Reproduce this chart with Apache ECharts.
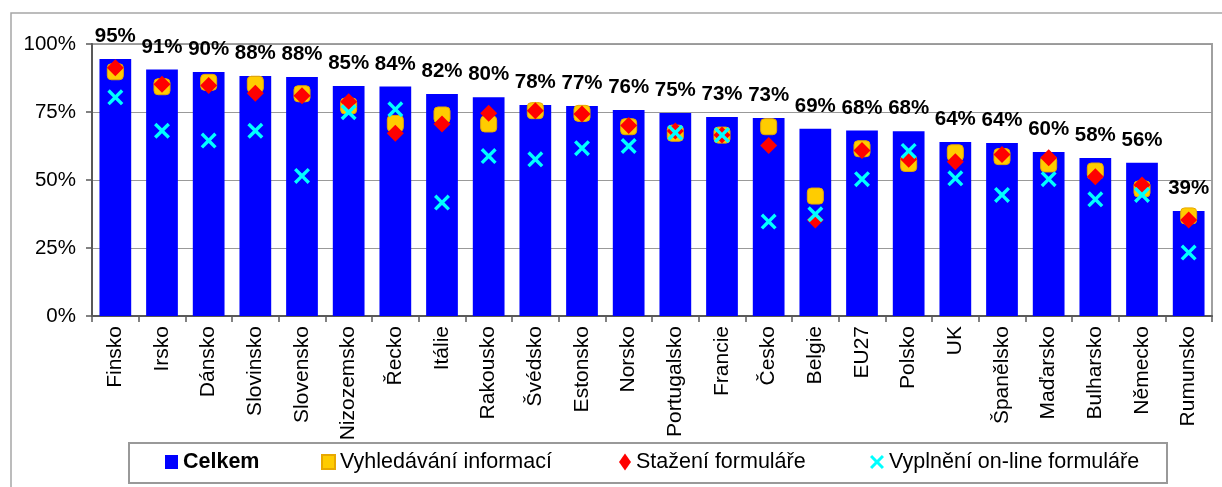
<!DOCTYPE html>
<html>
<head>
<meta charset="utf-8">
<script src="https://cdn.jsdelivr.net/npm/echarts@6/dist/echarts.min.js"></script>
<style>
html,body{margin:0;padding:0;background:#fff;}
#chart{width:1222px;height:487px;}
</style>
</head>
<body>
<div id="chart"></div>
<script>
const categories = ['Finsko','Irsko','Dánsko','Slovinsko','Slovensko','Nizozemsko','Řecko','Itálie','Rakousko','Švédsko','Estonsko','Norsko','Portugalsko','Francie','Česko','Belgie','EU27','Polsko','UK','Španělsko','Maďarsko','Bulharsko','Německo','Rumunsko'];
const celkem = [94.5,90.6,89.7,88.2,87.9,84.6,84.4,81.6,80.4,77.6,77.2,75.7,74.6,73.2,72.8,68.8,68.2,67.9,64.0,63.6,60.3,58.1,56.3,38.6];
const vyhledavani = [89.8,84.3,85.9,85.2,81.7,77.2,70.8,73.9,70.6,75.5,74.5,69.6,67.2,66.5,69.6,44.1,61.5,56.1,60.0,58.6,55.9,53.3,46.7,36.8];
const stazeni = [91.3,85.2,84.7,81.9,81.0,78.8,67.2,70.6,74.5,75.5,74.3,70.0,68.0,66.5,62.7,35.3,60.8,57.6,56.7,59.4,58.2,51.2,48.2,35.3];
const vyplneni = [80.4,68.1,64.5,68.1,51.5,74.9,76.0,41.7,58.8,57.6,61.7,62.5,67.4,66.5,34.7,37.4,50.3,60.7,50.6,44.5,50.3,42.9,44.5,23.3];
const yTicks = [0,25,50,75,100];
const seriesNames = ['Celkem','Vyhledávání informací','Stažení formuláře','Vyplnění on-line formuláře'];

const FONT = "'Liberation Sans', Arial, sans-serif";
const X_PATH = 'path://M0,1.5L1.5,0L5,3.5L8.5,0L10,1.5L6.5,5L10,8.5L8.5,10L5,6.5L1.5,10L0,8.5L3.5,5Z';

const chart = echarts.init(document.getElementById('chart'), null, {renderer:'canvas'});
const legendBase = {
  top: 451, itemWidth: 13, itemHeight: 14, itemGap: 0, padding: 0,
  textStyle: {fontFamily: FONT, fontSize: 21.5, color: '#000'}
};
chart.setOption({
  animation: false,
  backgroundColor: '#fff',
  textStyle: {fontFamily: FONT},
  graphic: [
    {type:'rect', shape:{x:11, y:13, width:1300, height:600}, style:{fill:'none', stroke:'#a6a6a6', lineWidth:1.5}, z:-1},
    {type:'rect', shape:{x:129, y:443, width:1038, height:40}, style:{fill:'#fff', stroke:'#999', lineWidth:2}, z:0}
  ],
  grid: {left: 92, right: 10, top: 44, bottom: 171, show: true, borderColor: '#a0a0a0', borderWidth: 2},
  legend: [
    Object.assign({}, legendBase, {left: 165, data:[{name: seriesNames[0], icon:'rect'}], textStyle: Object.assign({}, legendBase.textStyle, {fontWeight:'bold'})}),
    Object.assign({}, legendBase, {left: 321, data:[{name: seriesNames[1], icon:'rect'}]}),
    Object.assign({}, legendBase, {left: 619, itemWidth: 12, itemHeight: 17, data:[{name: seriesNames[2], icon:'diamond'}]}),
    Object.assign({}, legendBase, {left: 870, itemWidth: 14, data:[{name: seriesNames[3], icon: X_PATH}]})
  ],
  xAxis: {
    type: 'category', data: categories,
    axisLine: {lineStyle: {color: '#595959', width: 2}},
    axisTick: {show: true, length: 6, lineStyle: {color: '#595959', width: 1.5}},
    axisLabel: {interval: 0, rotate: 90, fontSize: 21, color: '#000', margin: 10, fontFamily: FONT},
    splitLine: {show: false}
  },
  yAxis: {
    type: 'value', min: yTicks[0], max: yTicks[yTicks.length-1], interval: 25,
    axisLine: {show: true, lineStyle: {color: '#595959', width: 2}},
    axisTick: {show: true, length: 6, lineStyle: {color: '#595959', width: 1.5}},
    axisLabel: {formatter: '{value}%', fontSize: 20.5, color: '#000', margin: 16, fontFamily: FONT},
    splitLine: {lineStyle: {color: '#999', width: 1}}
  },
  series: [
    {
      name: seriesNames[0], type: 'bar', data: celkem, barWidth: '68%',
      itemStyle: {color: '#0000FF'},
      label: {show: true, position: 'top', distance: 12, formatter: p => Math.round(p.value) + '%',
        fontSize: 20.5, fontWeight: 'bold', color: '#000', fontFamily: FONT}
    },
    {
      name: seriesNames[1], type: 'scatter', data: vyhledavani, symbol: 'roundRect', symbolSize: 16,
      itemStyle: {color: '#FFCC00', borderColor: '#E8A800', borderWidth: 1, opacity: 1}
    },
    {
      name: seriesNames[2], type: 'scatter', data: stazeni, symbol: 'diamond', symbolSize: [17, 17],
      itemStyle: {color: '#FF0000', opacity: 1}
    },
    {
      name: seriesNames[3], type: 'scatter', data: vyplneni, symbol: X_PATH, symbolSize: 16,
      itemStyle: {color: '#00FFFF', opacity: 1}
    }
  ]
});
</script>
</body>
</html>
